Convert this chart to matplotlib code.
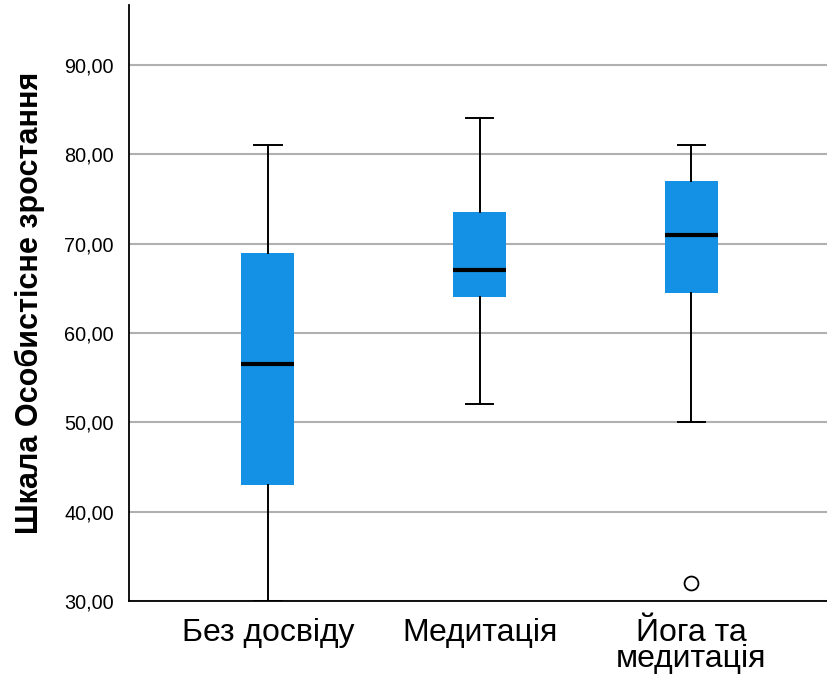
import matplotlib.pyplot as plt
from matplotlib.ticker import FuncFormatter

# summary statistics per group
groups = ['Без досвіду', 'Медитація', 'Йога та\nмедитація']
whisker_low = [30, 52, 50]
q1 = [43, 64, 64.5]
median = [56.5, 67, 71]
q3 = [69, 73.5, 77]
whisker_high = [81, 84, 81]
outliers = [[], [], [32]]

plt.rcParams['font.family'] = ['Liberation Sans', 'DejaVu Sans']

stats = []
for i in range(len(groups)):
    stats.append({'whislo': whisker_low[i], 'q1': q1[i], 'med': median[i],
                  'q3': q3[i], 'whishi': whisker_high[i], 'fliers': outliers[i],
                  'label': groups[i]})

fig = plt.figure(figsize=(8.27, 6.75), dpi=100)
ax = fig.add_axes([0.156, 0.1096, 0.844, 0.883])

ax.bxp(stats, positions=[1, 2, 3], widths=0.25, capwidths=0.13, patch_artist=True,
       boxprops=dict(facecolor='#1490e4', edgecolor='none', linewidth=0),
       medianprops=dict(color='black', linewidth=3),
       whiskerprops=dict(color='black', linewidth=1.4),
       capprops=dict(color='black', linewidth=1.4),
       flierprops=dict(marker='o', markerfacecolor='white', markeredgecolor='black',
                       markersize=10, markeredgewidth=1.3),
       zorder=3)

ax.set_xlim(0.344, 3.64)
ax.set_ylim(30, 96.7)
ax.set_yticks([30, 40, 50, 60, 70, 80, 90])
ax.yaxis.set_major_formatter(FuncFormatter(lambda v, p: f'{v:.2f}'.replace('.', ',')))
ax.yaxis.grid(True, color='#b0b0b0', linewidth=1.5)
ax.set_axisbelow(True)

ax.tick_params(axis='y', length=0, pad=11, labelsize=14.3)
ax.tick_params(axis='x', length=0, pad=12, labelsize=23)
for lbl in ax.get_xticklabels():
    lbl.set_linespacing(0.82)

ax.spines['top'].set_visible(False)
ax.spines['right'].set_visible(False)
ax.spines['left'].set_linewidth(1.3)
ax.spines['bottom'].set_linewidth(1.3)

ax.set_ylabel('Шкала Особистісне зростання', fontsize=22, fontweight='bold', labelpad=14)

fig.savefig('out.png', dpi=100)
